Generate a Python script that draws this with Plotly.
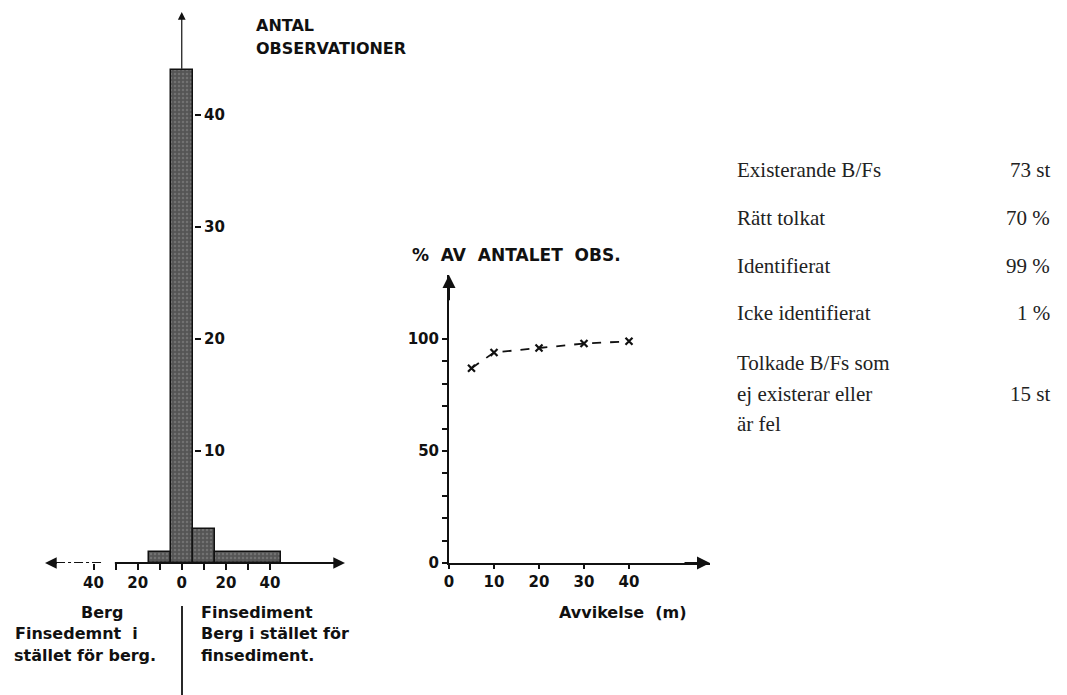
import plotly.graph_objects as go

# ---------------- data ----------------
bin_left = [-15, -5, 5, 15]
bin_right = [-5, 5, 15, 45]
counts = [1, 44, 3, 1]
hist_xtick_vals = [-40, -30, -20, -10, 0, 10, 20, 30, 40]
hist_xtick_text = ["40", "", "20", "", "0", "", "20", "", "40"]
hist_ytick_vals = [10, 20, 30, 40]
hist_ytick_text = ["10", "20", "30", "40"]

dev_m = [5, 10, 20, 30, 40]
pct_obs = [87, 94, 96, 98, 99]
pct_ytick_vals = [0, 10, 20, 30, 40, 50, 60, 70, 80, 90, 100]
pct_ytick_text = ["0", "", "", "", "", "50", "", "", "", "", "100"]
pct_xtick_vals = [0, 10, 20, 30, 40]

stat_labels = ["Existerande B/Fs", "Rätt tolkat", "Identifierat", "Icke identifierat",
               "Tolkade B/Fs som", "ej existerar eller", "är fel"]
stat_values = ["73 st", "70 %", "99 %", "1 %", "", "15 st", ""]

W, H = 1067, 695
def px(x):
    return x / W
def py(y):
    return 1 - y / H

HX = [-62, 74]
HY = [0, 49.2]
PX = [0, 58]
PY = [0, 128.6]

diag_font = "DejaVu Sans"
serif_font = "Liberation Serif"
tick_font = dict(family=diag_font, size=15, color="#111", weight="bold")

fig = go.Figure()

centers = [(a + b) / 2 for a, b in zip(bin_left, bin_right)]
widths = [b - a for a, b in zip(bin_left, bin_right)]
fig.add_trace(go.Bar(
    x=centers, y=counts, width=widths,
    marker=dict(color="#616161", line=dict(color="#111111", width=1.5),
                pattern=dict(shape=".", fgcolor="#8e8e8e", bgcolor="#555555", size=4, solidity=0.3)),
    xaxis="x", yaxis="y", showlegend=False, hoverinfo="skip"))

fig.add_trace(go.Scatter(
    x=dev_m, y=pct_obs, mode="lines+markers",
    line=dict(color="#111111", width=1.8, dash="dash"),
    marker=dict(symbol="x-thin", size=7, line=dict(color="#111111", width=2.2), color="#111111"),
    xaxis="x2", yaxis="y2", showlegend=False, hoverinfo="skip"))

fig.update_layout(
    width=W, height=H,
    margin=dict(l=0, r=0, t=0, b=0, autoexpand=False),
    paper_bgcolor="white", plot_bgcolor="rgba(0,0,0,0)",
    bargap=0,
    xaxis=dict(domain=[px(45), px(345)], range=HX, showgrid=False, zeroline=False,
               showline=False, tickvals=hist_xtick_vals, ticktext=hist_xtick_text,
               ticks="outside", ticklen=6, tickwidth=1.5, tickcolor="#111",
               tickfont=tick_font, anchor="y", automargin=False),
    yaxis=dict(domain=[py(563), py(12)], range=HY, showgrid=False, zeroline=False,
               showline=False, tickvals=hist_ytick_vals, ticktext=hist_ytick_text,
               ticks="outside", ticklen=6, tickwidth=2, tickcolor="#111",
               side="right", anchor="free", position=px(194),
               tickfont=tick_font, automargin=False),
    xaxis2=dict(domain=[px(449), px(710)], range=PX, showgrid=False, zeroline=False,
                showline=True, linecolor="#111", linewidth=2,
                tickvals=pct_xtick_vals, ticks="outside", ticklen=4, tickwidth=1.5,
                tickcolor="#111", tickfont=tick_font, anchor="y2", automargin=False),
    yaxis2=dict(domain=[py(563), py(275)], range=PY, showgrid=False, zeroline=False,
                showline=True, linecolor="#111", linewidth=2,
                tickvals=pct_ytick_vals, ticktext=pct_ytick_text,
                ticks="outside", ticklen=5, tickwidth=1.5, tickcolor="#111",
                tickfont=tick_font, anchor="x2", automargin=False),
)

ann = []
# histogram x axis: dashed left part with arrow, solid right part with arrow
ann.append(dict(x=HX[0], y=0, ax=HX[0] + 6, ay=0, xref="x", yref="y", axref="x", ayref="y",
                text="", showarrow=True, arrowhead=2, arrowsize=1.3, arrowwidth=1.8,
                arrowcolor="#111"))
ann.append(dict(x=HX[1], y=0, ax=-31, ay=0, xref="x", yref="y", axref="x", ayref="y",
                text="", showarrow=True, arrowhead=2, arrowsize=1.3, arrowwidth=1.8,
                arrowcolor="#111"))
fig.add_shape(type="line", xref="x", yref="y", x0=HX[0] + 5, x1=-36, y0=0, y1=0,
              line=dict(color="#111", width=1.8, dash="dashdot"))
# histogram vertical arrow
ann.append(dict(x=0, y=HY[1], ax=0, ay=max(counts), xref="x", yref="y", axref="x", ayref="y",
                text="", showarrow=True, arrowhead=2, arrowsize=1.3, arrowwidth=1.2,
                arrowcolor="#111"))
# percentage chart arrows
ann.append(dict(x=PX[1], y=0, ax=PX[1] - 6, ay=0, xref="x2", yref="y2", axref="x2", ayref="y2",
                text="", showarrow=True, arrowhead=2, arrowsize=1.3, arrowwidth=2,
                arrowcolor="#111"))
ann.append(dict(x=0, y=PY[1], ax=0, ay=PY[1] - 12, xref="x2", yref="y2", axref="x2", ayref="y2",
                text="", showarrow=True, arrowhead=2, arrowsize=1.3, arrowwidth=2,
                arrowcolor="#111"))

def txt(x, y, s, size=14, anchor="left", family=diag_font, color="#111", weight="bold"):
    ann.append(dict(x=px(x), y=py(y), xref="paper", yref="paper", text=s, showarrow=False,
                    xanchor=anchor, yanchor="middle", align=anchor,
                    font=dict(family=family, size=size, color=color, weight=weight)))

txt(254, 25, "ANTAL", 16)
txt(254, 49, "OBSERVATIONER", 16)
txt(410, 255, "%  AV  ANTALET  OBS.", 17)
txt(557, 612, "Avvikelse  (m)", 16)

txt(102, 612, "Berg", 16, anchor="center")
txt(13, 633, "Finsedemnt  i", 16)
txt(12, 655, "stället för berg.", 16)
txt(199, 612, "Finsediment", 16)
txt(199, 633, "Berg i stället för", 16)
txt(199, 655, "finsediment.", 16)

ys = [170, 218, 266, 313, 363, 394, 424]
for lab, val, y in zip(stat_labels, stat_values, ys):
    txt(735, y, lab, 21, family=serif_font, color="#222", weight="normal")
    if val:
        txt(1052, y, val, 21, anchor="right", family=serif_font, color="#222", weight="normal")

fig.update_layout(annotations=ann)
fig.add_shape(type="line", xref="paper", yref="paper", x0=px(182), x1=px(182),
              y0=py(606), y1=py(695), line=dict(color="#111", width=1.8))

fig.write_html("out.html")
